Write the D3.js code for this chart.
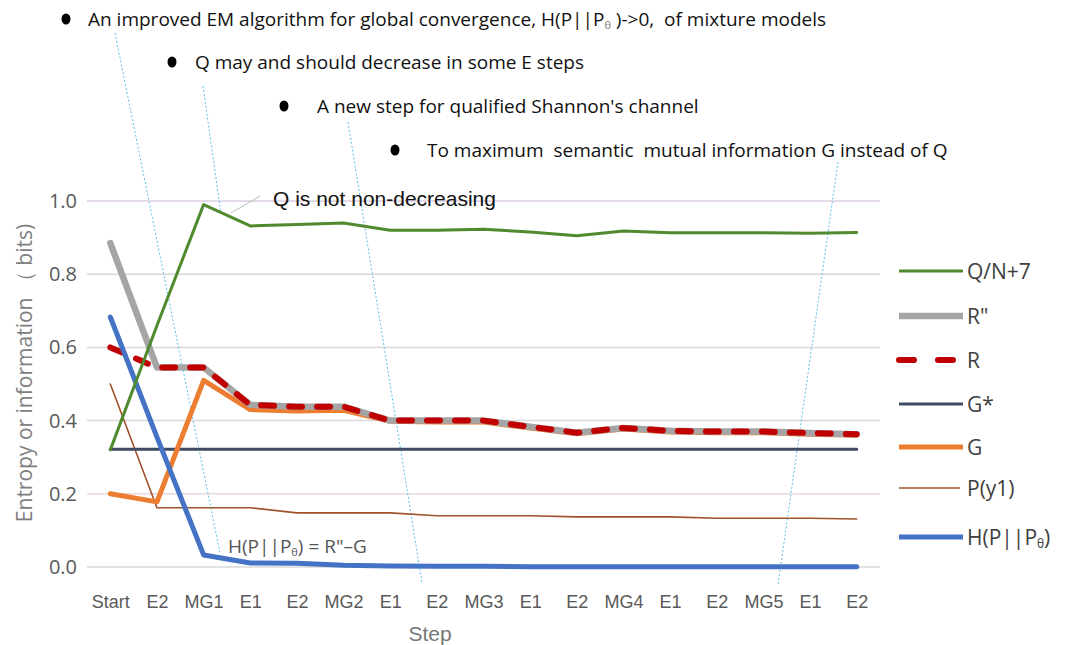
<!DOCTYPE html>
<html>
<head>
<meta charset="utf-8">
<script src="https://cdn.jsdelivr.net/npm/d3@7"></script>
<style>
  body { margin: 0; background: #fff; }
  svg { display: block; }
</style>
</head>
<body>
<div id="chart"></div>
<script>
var width = 1065,
    height = 645;

// etiquetas del eje x (se repiten, asi que usamos el indice)
var steps = ["Start", "E2", "MG1", "E1", "E2", "MG2", "E1", "E2", "MG3", "E1", "E2", "MG4", "E1", "E2", "MG5", "E1", "E2"];
var yTicks = [0, 0.2, 0.4, 0.6, 0.8, 1.0];

// series
var qN7  = [0.32, 0.66, 0.99, 0.932, 0.936, 0.94, 0.92, 0.92, 0.923, 0.915, 0.905, 0.918, 0.913, 0.913, 0.913, 0.912, 0.914];
var rDD  = [0.885, 0.545, 0.545, 0.443, 0.438, 0.438, 0.40, 0.40, 0.40, 0.383, 0.367, 0.38, 0.372, 0.37, 0.37, 0.366, 0.363];
var rr   = [0.60, 0.545, 0.545, 0.443, 0.438, 0.438, 0.40, 0.40, 0.40, 0.383, 0.367, 0.38, 0.372, 0.37, 0.37, 0.366, 0.363];
var gStar = [0.322, 0.322, 0.322, 0.322, 0.322, 0.322, 0.322, 0.322, 0.322, 0.322, 0.322, 0.322, 0.322, 0.322, 0.322, 0.322, 0.322];
var gg   = [0.20, 0.178, 0.51, 0.43, 0.426, 0.428, 0.398, 0.396, 0.396, 0.38, 0.364, 0.377, 0.369, 0.367, 0.367, 0.363, 0.36];
var py1  = [0.50, 0.162, 0.162, 0.162, 0.148, 0.148, 0.148, 0.14, 0.14, 0.14, 0.137, 0.137, 0.137, 0.133, 0.133, 0.133, 0.131];
var hPP  = [0.683, 0.355, 0.033, 0.011, 0.01, 0.005, 0.003, 0.002, 0.002, 0.001, 0.001, 0.001, 0.001, 0.001, 0.001, 0.001, 0.001];

var seriesNames = ["Q/N+7", "R\"", "R", "G*", "G", "P(y1)", "H"];

var series = [
  { name: "P(y1)", values: py1, color: "#a0522d", w: 1.6 },
  { name: "G*", values: gStar, color: "#3e4b63", w: 3 },
  { name: "G", values: gg, color: "#ed7d31", w: 5 },
  { name: "R\"", values: rDD, color: "#a5a5a5", w: 6.5 },
  { name: "R", values: rr, color: "#c00000", w: 6, dash: "13,15" },
  { name: "H", values: hPP, color: "#4472c4", w: 5 },
  { name: "Q/N+7", values: qN7, color: "#4f8a2e", w: 3 }
];

var x = d3.scalePoint()
    .domain(d3.range(steps.length))
    .range([87, 880])
    .padding(0.5);

var y = d3.scaleLinear()
    .domain([0, 1])
    .range([567, 201]);

var svg = d3.select("#chart").append("svg")
    .attr("width", width)
    .attr("height", height);

// rejilla
svg.append("g").selectAll("line")
    .data(yTicks)
    .enter().append("line")
    .attr("x1", 87).attr("x2", 880)
    .attr("y1", d => y(d)).attr("y2", d => y(d))
    .attr("stroke", d => d == 1 ? "#dccfe0" : (d == 0.2 ? "#e8d8e0" : "#d9d9d9"))
    .attr("stroke-width", 1.5);

// eje y
var yAxis = svg.append("g")
    .attr("transform", "translate(80,0)")
    .call(d3.axisLeft(y).tickValues(yTicks).tickFormat(d3.format(".1f")).tickSize(0).tickPadding(3));
yAxis.select(".domain").remove();
yAxis.selectAll("text")
    .attr("font-family", "Open Sans, sans-serif")
    .attr("font-size", 20)
    .attr("fill", "#595959");

// eje x
var xAxis = svg.append("g")
    .attr("transform", "translate(0,591)")
    .call(d3.axisBottom(x).tickFormat(i => steps[i]).tickSize(0).tickPadding(4));
xAxis.select(".domain").remove();
xAxis.selectAll("text")
    .attr("font-family", "Liberation Sans, Arial, sans-serif")
    .attr("font-size", 18)
    .attr("fill", "#595959");

svg.append("text")
    .attr("x", 430).attr("y", 641)
    .attr("text-anchor", "middle")
    .attr("font-family", "Liberation Sans, Arial, sans-serif")
    .attr("font-size", 21)
    .attr("fill", "#777")
    .text("Step");

svg.append("text")
    .attr("transform", "translate(32,373) rotate(-90)")
    .attr("text-anchor", "middle")
    .attr("font-family", "Open Sans, sans-serif")
    .attr("font-size", 21)
    .attr("fill", "#808080")
    .text("Entropy or information （ bits)");

// lineas punteadas azules (lineas guia de las anotaciones)
var guides = [
  [115, 33, 220, 553],
  [203, 86, 221, 214],
  [348, 122, 422, 583],
  [838, 162, 778, 585]
];
svg.append("g").selectAll("line")
    .data(guides)
    .enter().append("line")
    .attr("x1", d => d[0]).attr("y1", d => d[1])
    .attr("x2", d => d[2]).attr("y2", d => d[3])
    .attr("stroke", "#5bc0f0")
    .attr("stroke-width", 1)
    .attr("stroke-dasharray", "2,2");

// series
var line = d3.line()
    .x((d, i) => x(i))
    .y(d => y(d));

svg.append("g").selectAll("path")
    .data(series)
    .enter().append("path")
    .attr("d", d => line(d.values))
    .attr("fill", "none")
    .attr("stroke", d => d.color)
    .attr("stroke-width", d => d.w)
    .attr("stroke-linejoin", "round")
    .attr("stroke-linecap", "round")
    .attr("stroke-dasharray", d => d.dash || null);

// leyenda
var legendY = [271, 316, 360, 404, 447, 488, 537];
var legend = svg.append("g").selectAll("g")
    .data(seriesNames)
    .enter().append("g")
    .attr("transform", (d, i) => "translate(0," + legendY[i] + ")");

legend.append("line")
    .attr("x1", 899).attr("x2", d => d == "P(y1)" ? 960 : 963)
    .attr("y1", 0).attr("y2", 0)
    .attr("stroke", d => series.find(s => s.name == d).color)
    .attr("stroke-width", d => series.find(s => s.name == d).w)
    .attr("stroke-linecap", d => d == "R" ? "round" : "butt")
    .attr("stroke-dasharray", d => d == "R" ? "15,24" : null);

var legText = legend.append("text")
    .attr("x", 967).attr("y", 8)
    .attr("font-family", "Open Sans, sans-serif")
    .attr("font-size", 21)
    .attr("fill", "#404040");
legText.filter(d => d != "H").text(d => d);
var hl = legText.filter(d => d == "H");
hl.append("tspan").text("H(P||P");
hl.append("tspan").attr("font-size", 12).attr("dy", 3).text("θ");
hl.append("tspan").attr("dy", -3).text(")");

// anotaciones de arriba
var notes = [
  { bx: 66, by: 19, tx: 88, ty: 26, text: "An improved EM algorithm for global convergence" },
  { bx: 172, by: 62, tx: 195, ty: 69, text: "Q may and should decrease in some E steps" },
  { bx: 284, by: 106, tx: 317, ty: 113, text: "A new step for qualified Shannon's channel" },
  { bx: 395, by: 150, tx: 427, ty: 157, text: "To maximum  semantic  mutual information G instead of Q" }
];
var ng = svg.append("g");
ng.selectAll("ellipse")
    .data(notes)
    .enter().append("ellipse")
    .attr("cx", d => d.bx).attr("cy", d => d.by)
    .attr("rx", 4.5).attr("ry", 5.5)
    .attr("fill", "#000");
var nt = ng.selectAll("text")
    .data(notes)
    .enter().append("text")
    .attr("x", d => d.tx).attr("y", d => d.ty)
    .attr("font-family", "Open Sans, sans-serif")
    .attr("font-size", 19)
    .attr("fill", "#111")
    .style("white-space", "pre")
    .attr("xml:space", "preserve")
    .text(d => d.text);
var first = nt.filter((d, i) => i == 0);
first.append("tspan").text(", H(P||P");
first.append("tspan").attr("font-size", 11).attr("dy", 3).attr("fill", "#777").text("θ");
first.append("tspan").attr("dy", -3).text(" )->0,  of mixture models");

// Q is not non-decreasing
svg.append("line")
    .attr("x1", 231).attr("y1", 213).attr("x2", 260).attr("y2", 196)
    .attr("stroke", "#bbb").attr("stroke-width", 1);
svg.append("text")
    .attr("x", 273).attr("y", 206)
    .attr("font-family", "Liberation Sans, Arial, sans-serif")
    .attr("font-size", 21)
    .attr("fill", "#111")
    .text("Q is not non-decreasing");

// H(P||Pθ) = R"-G
var ht = svg.append("text")
    .attr("x", 228).attr("y", 553)
    .attr("font-family", "Open Sans, sans-serif")
    .attr("font-size", 19)
    .attr("fill", "#555");
ht.append("tspan").text("H(P||P");
ht.append("tspan").attr("font-size", 11).attr("dy", 3).text("θ");
ht.append("tspan").attr("dy", -3).text(") = R\"–G");
</script>
</body>
</html>
